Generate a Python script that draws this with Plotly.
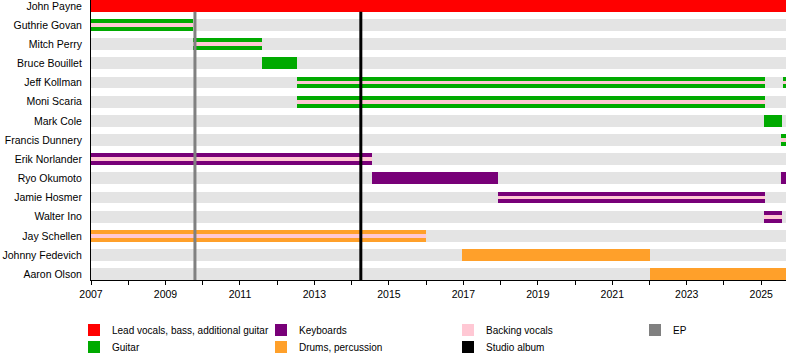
import datetime as dt
import plotly.graph_objects as go

# ---------------- data ----------------
members = ["John Payne", "Guthrie Govan", "Mitch Perry", "Bruce Bouillet", "Jeff Kollman",
           "Moni Scaria", "Mark Cole", "Francis Dunnery", "Erik Norlander", "Ryo Okumoto",
           "Jamie Hosmer", "Walter Ino", "Jay Schellen", "Johnny Fedevich", "Aaron Olson"]

timeline_start = "2007-01-01"
timeline_end = "2025-09-01"

stint_member = ["John Payne", "Guthrie Govan", "Mitch Perry", "Bruce Bouillet", "Jeff Kollman",
                "Jeff Kollman", "Moni Scaria", "Mark Cole", "Francis Dunnery", "Erik Norlander",
                "Ryo Okumoto", "Ryo Okumoto", "Jamie Hosmer", "Walter Ino", "Jay Schellen",
                "Johnny Fedevich", "Aaron Olson"]
stint_role = ["Lead vocals, bass, additional guitar", "Guitar", "Guitar", "Guitar", "Guitar",
              "Guitar", "Guitar", "Guitar", "Guitar", "Keyboards",
              "Keyboards", "Keyboards", "Keyboards", "Keyboards", "Drums, percussion",
              "Drums, percussion", "Drums, percussion"]
stint_start = ["2007-01-01", "2007-01-01", "2009-09-25", "2011-08-10", "2012-07-10",
               "2025-07-31", "2012-07-10", "2025-01-30", "2025-07-16", "2007-01-01",
               "2014-07-15", "2025-07-16", "2017-12-03", "2025-01-30", "2007-01-01",
               "2016-12-20", "2022-01-03"]
stint_end = ["2025-09-01", "2009-09-25", "2011-08-10", "2012-07-10", "2025-02-10",
             "2025-09-01", "2025-02-10", "2025-07-25", "2025-09-01", "2014-07-15",
             "2017-12-03", "2025-09-01", "2025-02-10", "2025-07-25", "2016-01-01",
             "2022-01-05", "2025-09-01"]
stint_backing_vocals = [False, True, True, False, True,
                        True, True, False, True, True,
                        False, False, True, True, True,
                        False, False]

release_type = ["EP", "Studio album"]
release_date = ["2009-10-17", "2014-04-01"]

role_names = ["Lead vocals, bass, additional guitar", "Guitar", "Keyboards",
              "Drums, percussion", "Backing vocals", "Studio album", "EP"]
role_colors = ["#FF0000", "#00AA00", "#780078", "#FFA02A", "#FFC8D4", "#000000", "#808080"]

# ---------------- helpers ----------------
def year_frac(s):
    d = dt.date.fromisoformat(s)
    y0 = dt.date(d.year, 1, 1)
    y1 = dt.date(d.year + 1, 1, 1)
    return d.year + (d - y0).days / (y1 - y0).days

color_of = dict(zip(role_names, role_colors))
row_of = {m: i for i, m in enumerate(members)}
x0 = year_frac(timeline_start)
x1 = year_frac(timeline_end)
BAR_W = 0.61
FONT = "Liberation Sans, Arial, sans-serif"

fig = go.Figure()

# background bands
fig.add_trace(go.Bar(
    orientation="h", y=list(range(len(members))),
    base=[x0] * len(members), x=[x1 - x0] * len(members),
    width=BAR_W, marker=dict(color="#E4E4E4", line=dict(width=0)),
    hoverinfo="skip", showlegend=False))

# instrument bars
for role in role_names[:4]:
    ys, bs, ws = [], [], []
    for m, r, s, e in zip(stint_member, stint_role, stint_start, stint_end):
        if r == role:
            ys.append(row_of[m]); bs.append(year_frac(s)); ws.append(year_frac(e) - year_frac(s))
    fig.add_trace(go.Bar(orientation="h", y=ys, base=bs, x=ws, width=BAR_W,
                         marker=dict(color=color_of[role], line=dict(width=0)),
                         name=role, showlegend=False))

# backing vocals (thin bar in middle)
ys, bs, ws = [], [], []
for m, s, e, bv in zip(stint_member, stint_start, stint_end, stint_backing_vocals):
    if bv:
        ys.append(row_of[m]); bs.append(year_frac(s)); ws.append(year_frac(e) - year_frac(s))
fig.add_trace(go.Bar(orientation="h", y=ys, base=bs, x=ws, width=BAR_W / 3,
                     marker=dict(color=color_of["Backing vocals"], line=dict(width=0)),
                     name="Backing vocals", showlegend=False))

# release lines
for t, d in zip(release_type, release_date):
    xv = year_frac(d)
    fig.add_shape(type="line", xref="x", yref="y", x0=xv, x1=xv,
                  y0=BAR_W / 2, y1=len(members) - 1 + BAR_W / 2,
                  line=dict(color=color_of[t], width=3), layer="above")

# custom legend
legend_order = [["Lead vocals, bass, additional guitar", "Guitar"],
                ["Keyboards", "Drums, percussion"],
                ["Backing vocals", "Studio album"],
                ["EP"]]
col_x = [88, 275, 462, 649]
row_y = [324, 341]
W, H = 800, 360
ML, MR, MT, MB = 91, 14, 0, 80
PW, PH = W - ML - MR, H - MT - MB
for ci, col in enumerate(legend_order):
    for ri, name in enumerate(col):
        px, py = col_x[ci], row_y[ri]
        fig.add_shape(type="rect", xref="paper", yref="paper",
                      x0=(px - ML) / PW, x1=(px + 12 - ML) / PW,
                      y0=(H - MB - (py + 12)) / PH, y1=(H - MB - py) / PH,
                      fillcolor=color_of[name], line=dict(width=0))
        fig.add_annotation(xref="paper", yref="paper",
                           x=(px + 22 - ML) / PW, y=(H - MB - (py + 6)) / PH,
                           text=name, showarrow=False, xanchor="left", yanchor="middle",
                           font=dict(family=FONT, size=10, color="#000000"))

fig.update_layout(
    width=W, height=H, margin=dict(l=ML, r=MR, t=MT, b=MB, autoexpand=False),
    barmode="overlay", bargap=0,
    plot_bgcolor="white", paper_bgcolor="white",
    font=dict(family=FONT, size=10.5, color="#000000"),
    xaxis=dict(range=[x0, x1], tickmode="array",
               tickvals=list(range(2007, 2026, 2)), ticktext=[str(y) for y in range(2007, 2026, 2)],
               ticks="outside", ticklen=4, tickcolor="black", showgrid=False, zeroline=False,
               showline=True, linecolor="black", linewidth=1,
               minor=dict(tickvals=list(range(2008, 2026, 2)), ticks="outside", ticklen=4,
                          tickcolor="black", showgrid=False),
               tickfont=dict(size=10.5)),
    yaxis=dict(range=[len(members) - 1 + BAR_W / 2, -BAR_W / 2],
               tickmode="array", tickvals=list(range(len(members))), ticktext=members,
               ticks="", showgrid=False, zeroline=False, showline=True,
               linecolor="black", linewidth=1, ticklabelstandoff=6,
               ticklabeloverflow="allow", tickfont=dict(size=10.5)),
)

fig.write_html("out.html", config={"displayModeBar": False},
               post_script="document.body.style.margin='0';document.body.style.overflow='hidden';")
